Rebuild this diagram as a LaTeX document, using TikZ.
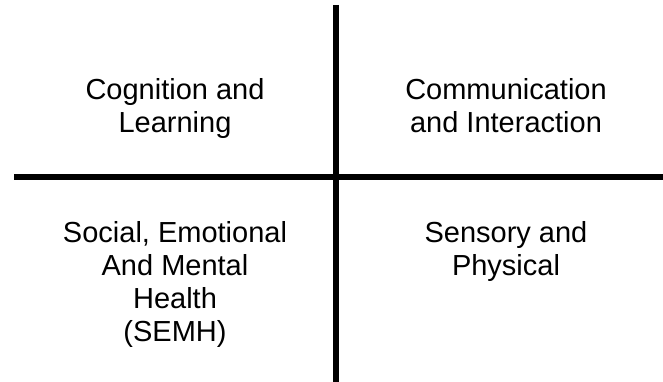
\documentclass[tikz,border=0pt]{standalone}
\usepackage{fontspec}
\setmainfont{Liberation Sans}
\begin{document}
\begin{tikzpicture}[x=1pt,y=-1pt,line cap=butt,font=\fontsize{29}{33}\selectfont,
                lab/.style={align=center,anchor=base,inner sep=0pt}]
                \useasboundingbox (0,0) rectangle (663,382);
                \coordinate (vtop) at (336,5);
                \coordinate (vbot) at (336,382);
                \coordinate (hleft) at (14,177);
                \coordinate (hright) at (663,177);
                \draw[line width=6pt] (vtop) -- (vbot) (hleft) -- (hright);
                % anchor base = baseline of the last line
                \node[lab] (cog) at (175,133) {Cognition and\\Learning};
                \node[lab] (comm) at (506,133) {Communication\\and Interaction};
                \node[lab] (semh) at (175,341) {Social, Emotional\\And Mental\\Health\\(SEMH)};
                \node[lab] (sens) at (506,275) {Sensory and\\Physical};
            \end{tikzpicture}
\end{document}
